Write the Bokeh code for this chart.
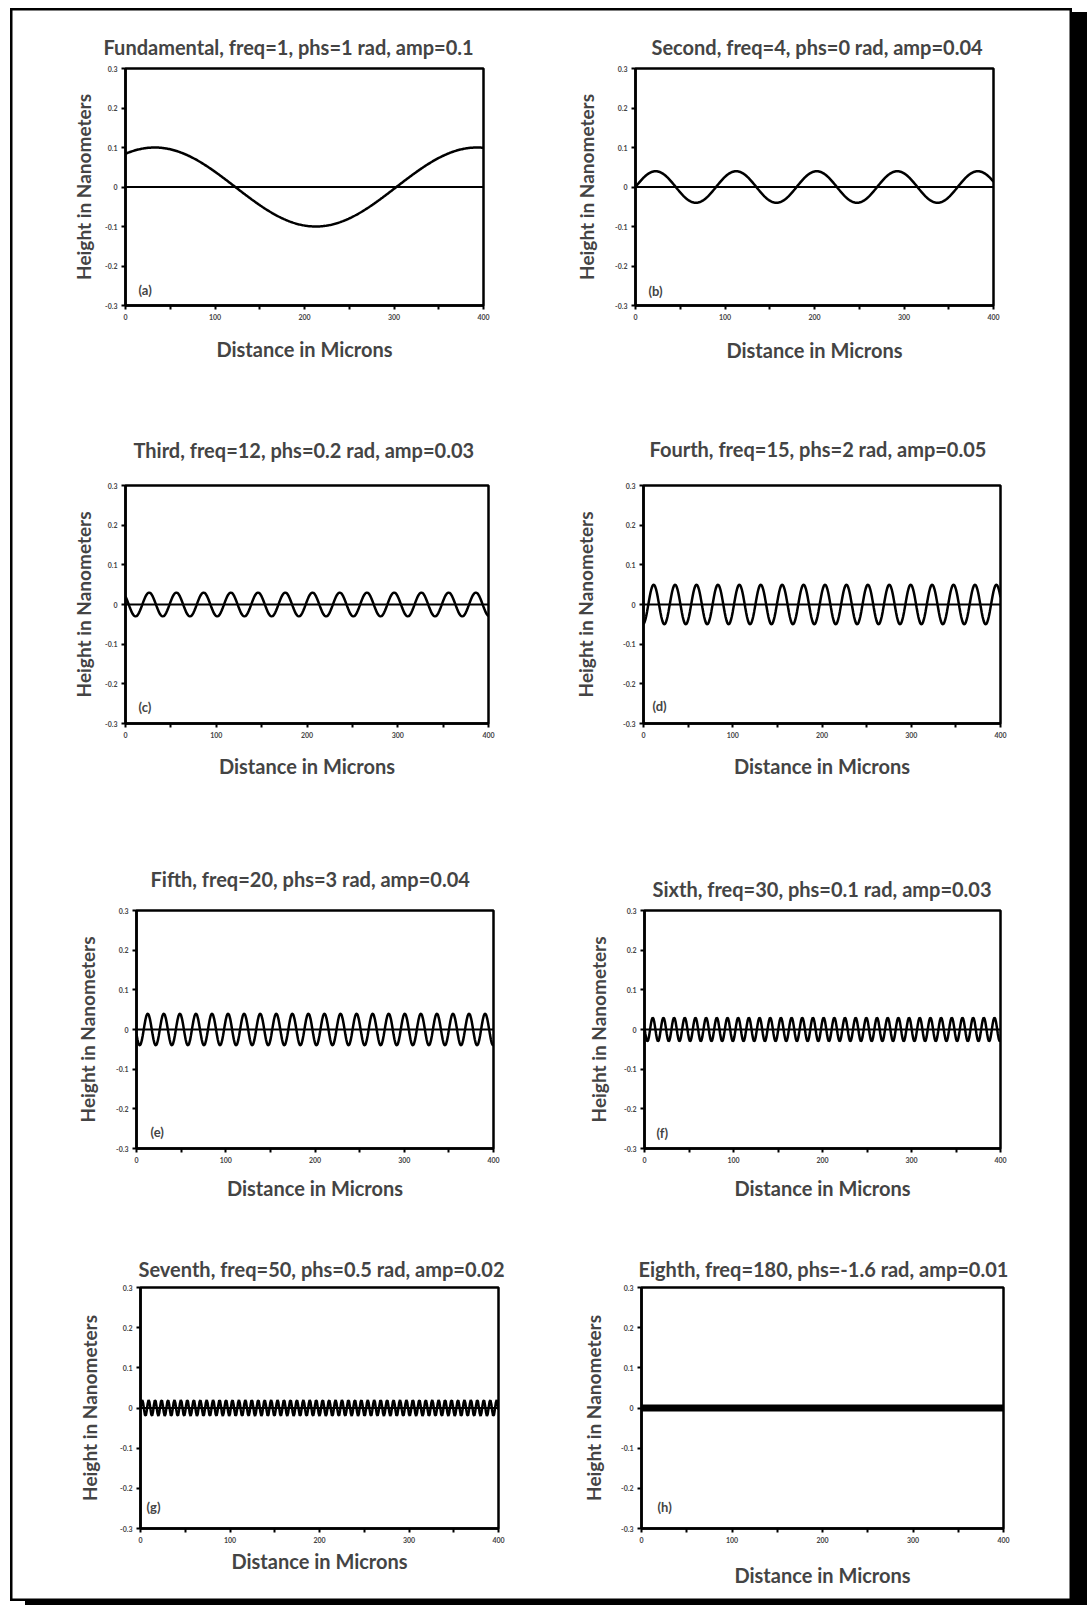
import numpy as np
from bokeh.plotting import figure
from bokeh.layouts import column, row
from bokeh.models import Span, Label, FixedTicker, Range1d
from bokeh.embed import file_html
from bokeh.resources import INLINE

# ---------------- data ----------------
names = ["Fundamental", "Second", "Third", "Fourth", "Fifth", "Sixth", "Seventh", "Eighth"]
freqs = [1, 4, 12, 15, 20, 30, 50, 180]
phases = [1, 0, 0.2, 2, 3, 0.1, 0.5, -1.6]
amps = [0.1, 0.04, 0.03, 0.05, 0.04, 0.03, 0.02, 0.01]
titles = [
    "Fundamental, freq=1, phs=1 rad, amp=0.1",
    "Second, freq=4, phs=0 rad, amp=0.04",
    "Third, freq=12, phs=0.2 rad, amp=0.03",
    "Fourth, freq=15, phs=2 rad, amp=0.05",
    "Fifth, freq=20, phs=3 rad, amp=0.04",
    "Sixth, freq=30, phs=0.1 rad, amp=0.03",
    "Seventh, freq=50, phs=0.5 rad, amp=0.02",
    "Eighth, freq=180, phs=-1.6 rad, amp=0.01",
]
tags = ["(a)", "(b)", "(c)", "(d)", "(e)", "(f)", "(g)", "(h)"]
distance = np.arange(0, 401, 1)  # microns, one sample per micron
x_ticks = [0, 100, 200, 300, 400]
x_minor = [50, 150, 250, 350]
y_ticks = [-0.3, -0.2, -0.1, 0, 0.1, 0.2, 0.3]
y_tick_labels = ["-0.3", "-0.2", "-0.1", "0", "0.1", "0.2", "0.3"]
x_label = "Distance in Microns"
y_label = "Height in Nanometers"

# ---------------- layout (absolute page pixels) ----------------
ORIGIN_X, ORIGIN_Y = 10, 8
col_edges = [10, 560, 1072]
row_edges = [8, 400, 805, 1210, 1601]
# frame boxes: left, right, top, bottom
frames = [
    (125, 483, 68, 307), (635, 993, 68, 305),
    (125, 488, 484, 723), (643, 1000, 485, 723),
    (136, 493, 910, 1148), (644, 1000, 910, 1148),
    (140, 498, 1287, 1528), (641, 1003, 1287, 1528),
]
title_standoff = [20, 20, 48, 50, 40, 20, 14, 14]
title_dx = [-22, 16, 8, 6, 14, 8, -2, -3]
xlab_gap = [40, 41, 39, 39, 36, 36, 29, 43]
ylab_gap = [37, 44, 37, 53, 44, 41, 46, 43]
tag_off = [(13, 16), (13, 15), (13, 17), (9, 18), (14, 17), (12, 16), (6, 22), (16, 22)]

FONT = "Lato"

figs = []
for i in range(8):
    r, c = divmod(i, 2)
    fx0, fx1 = col_edges[c], col_edges[c + 1]
    fy0, fy1 = row_edges[r], row_edges[r + 1]
    L, R, T, B = frames[i]
    p = figure(width=fx1 - fx0, height=fy1 - fy0,
               x_range=Range1d(0, 400), y_range=Range1d(-0.3, 0.3),
               output_backend="svg", toolbar_location=None,
               min_border_left=L - fx0, min_border_right=fx1 - R,
               min_border_top=T - fy0, min_border_bottom=fy1 - B)
    p.xgrid.visible = False
    p.ygrid.visible = False
    p.outline_line_color = "black"
    p.outline_line_width = 2.5
    p.background_fill_color = "white"
    p.border_fill_color = None

    p.title.text = titles[i]
    p.title.text_font = FONT
    p.title.text_font_style = "bold"
    p.title.text_font_size = "20px"
    p.title.align = "left"
    p.title.offset = title_dx[i]
    p.title.standoff = title_standoff[i]

    xa = p.xaxis[0]
    xa.ticker = FixedTicker(ticks=x_ticks, minor_ticks=x_minor)
    ya = p.yaxis[0]
    ya.ticker = FixedTicker(ticks=y_ticks, minor_ticks=[])
    ya.major_label_overrides = {v: s for v, s in zip(y_ticks, y_tick_labels)}
    for ax in (xa, ya):
        ax.axis_line_width = 2.5
        ax.axis_line_color = "black"
        ax.major_tick_line_width = 2
        ax.major_tick_in = 0
        ax.major_tick_out = 4
        ax.minor_tick_line_width = 2
        ax.minor_tick_in = 0
        ax.minor_tick_out = 4
        ax.major_label_text_font = FONT
        ax.major_label_text_font_style = "bold"
        ax.major_label_text_font_size = "7px"
        ax.major_label_standoff = 4
        ax.axis_label_text_font = FONT
        ax.axis_label_text_font_style = "bold"
    xa.axis_label = x_label
    xa.axis_label_text_font_size = "20px"
    xa.axis_label_standoff = xlab_gap[i] - 26
    ya.axis_label = y_label
    ya.axis_label_text_font_size = "19px"
    ya.axis_label_standoff = ylab_gap[i] - 30

    p.add_layout(Span(location=0, dimension="width", line_color="black", line_width=1.8))
    y = amps[i] * np.sin(freqs[i] * (2 * np.pi * distance / 360.0 + phases[i]))
    p.line(distance, y, line_color="black", line_width=2.5)

    dx, dy = tag_off[i]
    p.add_layout(Label(x=0, y=-0.3, x_offset=dx, y_offset=dy, text=tags[i],
                       text_font=FONT, text_font_style="bold", text_font_size="13px",
                       text_baseline="middle", text_align="left"))
    figs.append(p)

rows = [row(figs[2 * k], figs[2 * k + 1]) for k in range(4)]
root = column(*rows, styles={
    "margin-left": f"{ORIGIN_X}px", "margin-top": f"{ORIGIN_Y}px",
    "background-color": "white",
    "box-shadow": "inset 0 0 0 2.5px black, 15px 4px 0 0 black",
})

open("out.html", "w").write(file_html(root, INLINE))
